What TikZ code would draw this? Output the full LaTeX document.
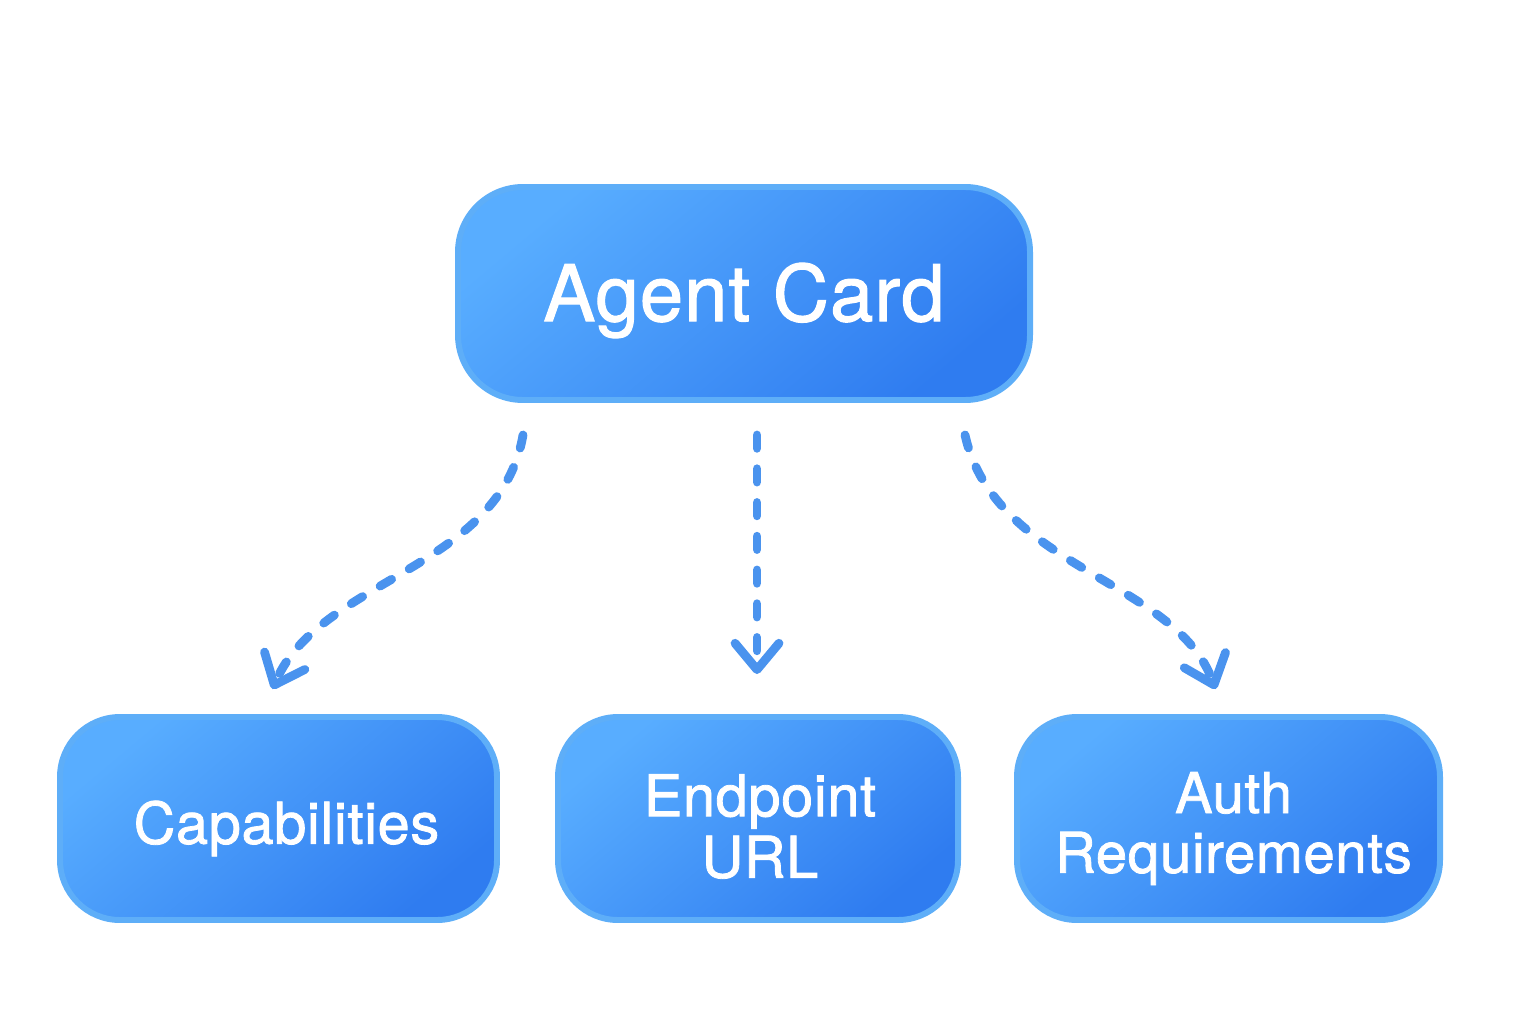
\documentclass[tikz,border=0pt]{standalone}
\usepackage{fontspec}
\setmainfont{TeX Gyre Heros}[FakeBold=1.4,LetterSpace=1.2]
\usetikzlibrary{arrows.meta}
\definecolor{boxlight}{HTML}{58ADFF}
\definecolor{boxdark}{HTML}{2F7CF0}
\definecolor{boxedge}{HTML}{5EAEF8}
\definecolor{arrowblue}{HTML}{4A93EE}
\tikzset{
  card/.style={draw=boxedge, line width=1.7pt, rounded corners=0.6cm,
    top color=boxlight, bottom color=boxdark, shading angle=40,
    inner sep=0pt},
  lbl/.style={text=white, align=center, inner sep=0pt},
  conn/.style={draw=arrowblue, line width=2.5pt, line cap=round,
    dash pattern=on 3.8pt off 5.8pt,
    -{Straight Barb[round,length=7.5pt,width=12.5pt]}},
}
\begin{document}
\begin{tikzpicture}
\useasboundingbox (0,0) rectangle (15.36,10.24);
\node[card, minimum width=5.72cm, minimum height=2.13cm, rounded corners=0.65cm] (agent) at (7.44,7.305) {};
\node[card, minimum width=4.37cm, minimum height=2.03cm] (cap) at (2.785,2.055) {};
\node[card, minimum width=4.00cm, minimum height=2.03cm] (url) at (7.58,2.055) {};
\node[card, minimum width=4.23cm, minimum height=2.03cm] (auth) at (12.285,2.055) {};
\node[lbl, font=\fontsize{22.2}{26}\selectfont] (agentt) at ([yshift=-0.07cm]agent.center) {Agent Card};
\node[lbl, font=\fontsize{16.4}{17}\selectfont] (capt) at ([xshift=0.08cm,yshift=-0.1cm]cap.center) {Capabilities};
\node[lbl, font=\fontsize{16.4}{17.5}\selectfont] (urlt) at ([xshift=0.02cm,yshift=-0.08cm]url.center) {Endpoint\\URL};
\node[lbl, font=\fontsize{16}{17}\selectfont] (autht) at ([xshift=0.05cm,yshift=-0.1cm]auth.center) {Auth\\Requirements};
\draw[conn] ([xshift=-2.21cm,yshift=-0.32cm]agent.south)
  .. controls (5.0,4.55) and (3.2,4.45) .. ([xshift=-0.06cm,yshift=0.25cm]cap.north);
\draw[conn] ([xshift=0.13cm,yshift=-0.32cm]agent.south) -- ([yshift=0.40cm]url.north -| 7.57,0);
\draw[conn] ([xshift=2.21cm,yshift=-0.32cm]agent.south)
  .. controls (9.95,4.55) and (11.75,4.45) .. ([xshift=-0.13cm,yshift=0.25cm]auth.north);
\end{tikzpicture}
\end{document}
